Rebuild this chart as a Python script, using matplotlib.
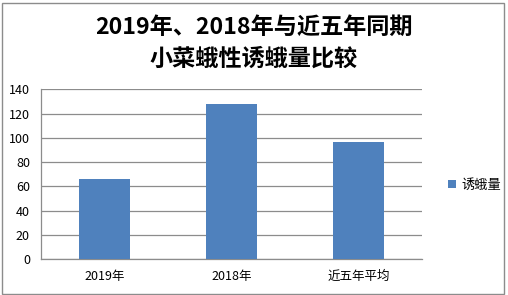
import matplotlib
matplotlib.use("Agg")
import matplotlib.pyplot as plt
from matplotlib.patches import Rectangle

categories = ["2019年", "2018年", "近五年平均"]
values = [66, 128, 97]
series_name = "诱蛾量"
yticks = [0, 20, 40, 60, 80, 100, 120, 140]
title_lines = ["2019年、2018年与近五年同期", "小菜蛾性诱蛾量比较"]

plt.rcParams['font.family'] = ['Noto Sans CJK SC', 'DejaVu Sans']

W, H = 508, 295
fig = plt.figure(figsize=(W/100, H/100), dpi=100)
ax = fig.add_axes([41/W, 1 - 259.3/H, (422-41)/W, (259.3-89.3)/H])

x = list(range(len(categories)))
bars = ax.bar(x, values, width=0.4, color="#4F81BD", label=series_name, zorder=3)
ax.set_xlim(-0.5, 2.5)
ax.set_ylim(0, 140)
ax.set_yticks(yticks)
ax.set_xticks(x)
ax.set_xticklabels(categories, fontsize=9)
ax.tick_params(axis='y', labelsize=9, length=0, pad=8)
ax.tick_params(axis='x', length=0, pad=8)
ax.grid(axis='y', color="#8C8C8C", linewidth=0.9, zorder=0)
for s in ['top', 'right']:
    ax.spines[s].set_visible(False)
ax.spines['left'].set_color("#8C8C8C")
ax.spines['bottom'].set_color("#8C8C8C")
ax.spines['left'].set_linewidth(0.9)
ax.spines['bottom'].set_linewidth(0.9)

fig.text(254/W, 1 - 27/H, title_lines[0], ha='center', va='center', fontsize=16.7,
         fontweight='bold')
fig.text(254/W, 1 - 59/H, title_lines[1], ha='center', va='center', fontsize=16.7,
         fontweight='bold')

leg = fig.legend(loc='center left', bbox_to_anchor=(436/W, 1 - 185/H), frameon=False,
                 fontsize=9.5, handlelength=0.6, handleheight=0.6, handletextpad=0.4)

fig.patches.append(Rectangle((1.5/W, 1.5/H), (W-6)/W, (H-4)/H, transform=fig.transFigure,
                             fill=False, edgecolor="#8C8C8C", linewidth=1.0))

fig.savefig("out.png", dpi=100, facecolor="white")
